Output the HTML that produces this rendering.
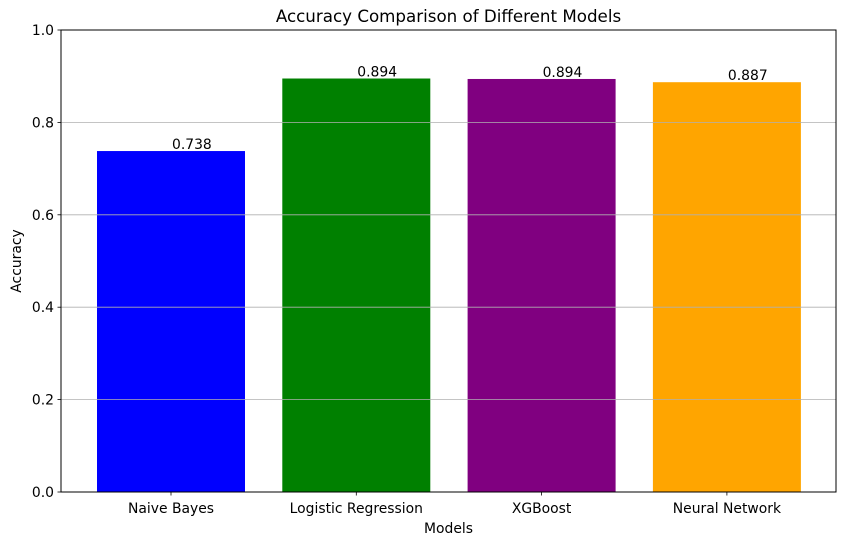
<!DOCTYPE html>
<html><head><meta charset="utf-8"><style>
body{margin:0;background:#fff}
svg text{font-family:"DejaVu Sans","Liberation Sans",sans-serif;fill:#000}
</style></head><body>
<svg id="c" width="846" height="545" xmlns="http://www.w3.org/2000/svg"></svg>
<script>
const categories=["Naive Bayes","Logistic Regression","XGBoost","Neural Network"];
const values=[0.738,0.895,0.894,0.887];
const valueLabels=["0.738","0.894","0.894","0.887"];
const colors=["blue","green","purple","orange"];
const yTicks=[0,0.2,0.4,0.6,0.8,1.0];
const yTickLabels=["0.0","0.2","0.4","0.6","0.8","1.0"];
const svg=document.getElementById('c');
const NS="http://www.w3.org/2000/svg";
const L=61,R=836,T=30,B=492;
const y=v=>B-v*(B-T);
const step=185.3,c0=171,bw=148;
const x=i=>c0+i*step;
const FS=13.9;
function mk(t,a,txt){const e=document.createElementNS(NS,t);for(const k in a)e.setAttribute(k,a[k]);if(txt!=null)e.textContent=txt;svg.appendChild(e);return e;}
categories.forEach((c,i)=>{
 const r=mk('rect',{x:x(i)-bw/2,y:y(values[i]),width:bw,height:B-y(values[i]),fill:colors[i]});
 
 
});
yTicks.forEach((t,i)=>{
 if(t>0&&t<1){const g=mk('line',{x1:L,x2:R,y1:y(t),y2:y(t),stroke:'#b0b0b0','stroke-width':0.8});
 
 }
 mk('line',{x1:L-3.5,x2:L,y1:y(t),y2:y(t),stroke:'#000','stroke-width':0.8});
 const tl=mk('text',{x:L-7,y:y(t)+5,'text-anchor':'end','font-size':FS},yTickLabels[i]);
 
 
});
categories.forEach((c,i)=>{
 mk('line',{x1:x(i),x2:x(i),y1:B,y2:B+3.5,stroke:'#000','stroke-width':0.8});
 const tl=mk('text',{x:x(i),y:B+21,'text-anchor':'middle','font-size':FS},c);
 
 
 const vl=mk('text',{x:x(i)+1,y:y(values[i])-2,'font-size':FS},valueLabels[i]);
 
 
});
const f=mk('rect',{x:L,y:T,width:R-L,height:B-T,fill:'none',stroke:'#000','stroke-width':1});


const ti=mk('text',{x:(L+R)/2,y:22,'text-anchor':'middle','font-size':16.7},"Accuracy Comparison of Different Models");


const xt=mk('text',{x:(L+R)/2,y:533,'text-anchor':'middle','font-size':FS},"Models");


const yt=mk('text',{x:21,y:(T+B)/2,'text-anchor':'middle','font-size':FS,transform:`rotate(-90 21 ${(T+B)/2})`},"Accuracy");


</script>
</body></html>
